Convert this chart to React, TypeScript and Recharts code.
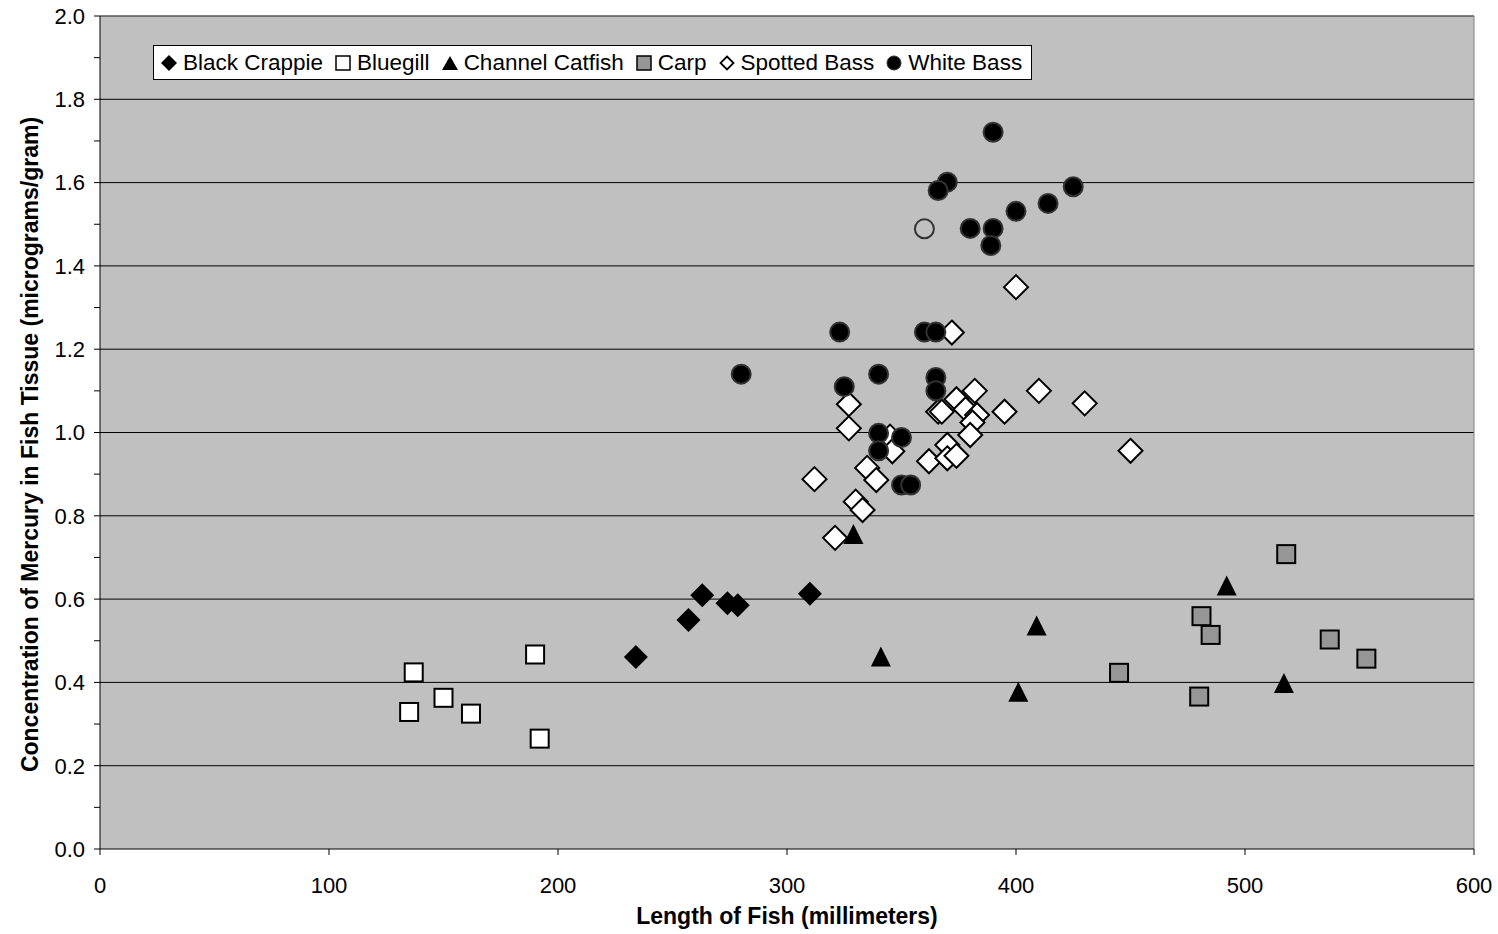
import {
  CartesianGrid,
  ReferenceLine,
  Scatter,
  ScatterChart,
  XAxis,
  YAxis,
} from "recharts";

type Pt = { x: number; y: number };

const blackCrappie: Pt[] = [
  { x: 234, y: 0.461 },
  { x: 257, y: 0.55 },
  { x: 263, y: 0.609 },
  { x: 274, y: 0.59 },
  { x: 278.5, y: 0.585 },
  { x: 310, y: 0.613 },
];

const bluegill: Pt[] = [
  { x: 137, y: 0.424 },
  { x: 135, y: 0.329 },
  { x: 150, y: 0.363 },
  { x: 162, y: 0.325 },
  { x: 190, y: 0.467 },
  { x: 192, y: 0.265 },
];

const channelCatfish: Pt[] = [
  { x: 329, y: 0.754 },
  { x: 341, y: 0.46 },
  { x: 409, y: 0.534 },
  { x: 401, y: 0.375 },
  { x: 492, y: 0.63 },
  { x: 517, y: 0.396 },
];

const carp: Pt[] = [
  { x: 518, y: 0.708 },
  { x: 481, y: 0.559 },
  { x: 485, y: 0.514 },
  { x: 445, y: 0.423 },
  { x: 480, y: 0.366 },
  { x: 537, y: 0.503 },
  { x: 553, y: 0.457 },
];

const spottedBass: Pt[] = [
  { x: 372, y: 1.24 },
  { x: 327, y: 1.068 },
  { x: 327, y: 1.01 },
  { x: 312, y: 0.888 },
  { x: 321, y: 0.747 },
  { x: 335, y: 0.915 },
  { x: 339, y: 0.886 },
  { x: 330, y: 0.834 },
  { x: 333, y: 0.814 },
  { x: 345, y: 0.99 },
  { x: 346, y: 0.955 },
  { x: 362, y: 0.931 },
  { x: 370, y: 0.97 },
  { x: 370, y: 0.938 },
  { x: 374, y: 0.944 },
  { x: 366, y: 1.05 },
  { x: 367.6, y: 1.05 },
  { x: 374, y: 1.08 },
  { x: 382, y: 1.1 },
  { x: 378, y: 1.056 },
  { x: 383, y: 1.042 },
  { x: 381, y: 1.024 },
  { x: 380, y: 0.994 },
  { x: 395, y: 1.05 },
  { x: 410, y: 1.1 },
  { x: 430, y: 1.07 },
  { x: 450, y: 0.956 },
  { x: 400, y: 1.349 },
];

const whiteBass: Pt[] = [
  { x: 390, y: 1.721 },
  { x: 370, y: 1.601 },
  { x: 366, y: 1.581 },
  { x: 380, y: 1.49 },
  { x: 390, y: 1.49 },
  { x: 389, y: 1.449 },
  { x: 400, y: 1.531 },
  { x: 414, y: 1.55 },
  { x: 425, y: 1.59 },
  { x: 323, y: 1.241 },
  { x: 360, y: 1.241 },
  { x: 365, y: 1.241 },
  { x: 280, y: 1.14 },
  { x: 340, y: 1.14 },
  { x: 365, y: 1.132 },
  { x: 365, y: 1.1 },
  { x: 325, y: 1.11 },
  { x: 340, y: 0.998 },
  { x: 340, y: 0.956 },
  { x: 350, y: 0.988 },
  { x: 350, y: 0.874 },
  { x: 354, y: 0.874 },
];

// one white bass point drawn hollow in the original
const whiteBassHollow: Pt[] = [{ x: 360, y: 1.489 }];

const xTicks = [0, 100, 200, 300, 400, 500, 600];
const yTicks = [
  0, 0.1, 0.2, 0.3, 0.4, 0.5, 0.6, 0.7, 0.8, 0.9, 1.0, 1.1, 1.2, 1.3, 1.4, 1.5,
  1.6, 1.7, 1.8, 1.9, 2.0,
];
const yGrid = [0.2, 0.4, 0.6, 0.8, 1.0, 1.2, 1.4, 1.6, 1.8, 2.0];

const FONT = "'Liberation Sans', Arial, sans-serif";
const Y_TITLE = "Concentration of Mercury in Fish Tissue (micrograms/gram)";

type ShapeProps = { cx?: number; cy?: number };

const Diamond = ({ cx = 0, cy = 0, fill }: ShapeProps & { fill: string }) => (
  <polygon
    points={`${cx},${cy - 12} ${cx + 12},${cy} ${cx},${cy + 12} ${cx - 12},${cy}`}
    fill={fill}
    stroke="#000"
    strokeWidth={fill === "#000" ? 0 : 2}
  />
);

const Square = ({ cx = 0, cy = 0, fill }: ShapeProps & { fill: string }) => (
  <rect
    x={cx - 9}
    y={cy - 9}
    width={18}
    height={18}
    fill={fill}
    stroke="#000"
    strokeWidth={2}
  />
);

const Triangle = ({ cx = 0, cy = 0 }: ShapeProps) => (
  <polygon
    points={`${cx},${cy - 11} ${cx + 10},${cy + 9} ${cx - 10},${cy + 9}`}
    fill="#000"
  />
);

const Dot = ({ cx = 0, cy = 0, fill }: ShapeProps & { fill: string }) => (
  <circle cx={cx} cy={cy} r={9.5} fill={fill} stroke="#333" strokeWidth={2} />
);

// y title sits a little below the plot's middle in the original
function YTitle(props: any) {
  const vb = props.viewBox || { x: 0, y: 16, width: 100, height: 833 };
  const x = vb.x + 30;
  const y = vb.y + vb.height / 2 + 12;
  return (
    <text
      x={x}
      y={y}
      transform={`rotate(-90, ${x}, ${y})`}
      textAnchor="middle"
      dominantBaseline="central"
      fill="#000"
      fontSize={23}
      fontWeight="bold"
      fontFamily={FONT}
    >
      {Y_TITLE}
    </text>
  );
}

function LegendBox() {
  const item = (icon: React.ReactNode, label: string, last = false) => (
    <span
      style={{
        display: "inline-flex",
        alignItems: "center",
        marginRight: last ? 0 : 12,
      }}
    >
      <svg width={16} height={16} style={{ marginRight: 6 }}>
        {icon}
      </svg>
      {label}
    </span>
  );
  return (
    <div
      style={{
        position: "absolute",
        left: 153,
        top: 45,
        height: 33,
        boxSizing: "content-box",
        background: "#fff",
        border: "1px solid #000",
        fontFamily: FONT,
        fontSize: 22.5,
        color: "#000",
        padding: "0 9px 0 7px",
        whiteSpace: "nowrap",
        display: "flex",
        alignItems: "center",
      }}
    >
      {item(<polygon points="8,0 16,8 8,16 0,8" fill="#000" />, "Black Crappie")}
      {item(<rect x={1} y={1} width={14} height={14} fill="#fff" stroke="#000" strokeWidth={1.5} />, "Bluegill")}
      {item(<polygon points="8,1 16,15 0,15" fill="#000" />, "Channel Catfish")}
      {item(<rect x={1} y={1} width={14} height={14} fill="#969696" stroke="#000" strokeWidth={1.5} />, "Carp")}
      {item(<polygon points="8,1.5 14.5,8 8,14.5 1.5,8" fill="#fff" stroke="#000" strokeWidth={1.8} />, "Spotted Bass")}
      {item(<circle cx={8} cy={8} r={7} fill="#000" stroke="#333" strokeWidth={1} />, "White Bass", true)}
    </div>
  );
}

export default function App() {
  return (
    <div
      style={{
        position: "absolute",
        left: 0,
        top: 0,
        width: 1498,
        height: 934,
        background: "#fff",
      }}
    >
      <ScatterChart
        width={1498}
        height={934}
        margin={{ top: 16, right: 24, bottom: 0, left: 0 }}
      >
        <CartesianGrid
          horizontal
          vertical={false}
          horizontalValues={yGrid}
          stroke="#000"
          strokeOpacity={1}
          fill="#c0c0c0"
          fillOpacity={1}
        />
        <XAxis
          type="number"
          dataKey="x"
          domain={[0, 600]}
          ticks={xTicks}
          interval={0}
          height={85}
          stroke="#000"
          tickSize={6}
          tickMargin={22}
          tick={{ fill: "#000", fontSize: 22, fontFamily: FONT }}
          label={{
            value: "Length of Fish (millimeters)",
            position: "center",
            dy: 24,
            style: { fill: "#000", fontSize: 23, fontWeight: "bold", fontFamily: FONT },
          }}
        />
        <YAxis
          type="number"
          dataKey="y"
          domain={[0, 2]}
          ticks={yTicks}
          interval={0}
          width={100}
          stroke="#000"
          tickSize={6}
          tickMargin={9}
          tickFormatter={(v: number) =>
            Math.round(v * 10) % 2 === 0 ? v.toFixed(1) : ""
          }
          tick={{ fill: "#000", fontSize: 22, fontFamily: FONT }}
          label={{ content: (p: any) => <YTitle {...p} /> }}
        />
        <ReferenceLine x={600} stroke="#808080" />
        <ReferenceLine y={2} stroke="#808080" />
        <Scatter
          name="Black Crappie"
          data={blackCrappie}
          isAnimationActive={false}
          shape={(p: ShapeProps) => <Diamond {...p} fill="#000" />}
        />
        <Scatter
          name="Bluegill"
          data={bluegill}
          isAnimationActive={false}
          shape={(p: ShapeProps) => <Square {...p} fill="#fff" />}
        />
        <Scatter
          name="Channel Catfish"
          data={channelCatfish}
          isAnimationActive={false}
          shape={(p: ShapeProps) => <Triangle {...p} />}
        />
        <Scatter
          name="Carp"
          data={carp}
          isAnimationActive={false}
          shape={(p: ShapeProps) => <Square {...p} fill="#969696" />}
        />
        <Scatter
          name="Spotted Bass"
          data={spottedBass}
          isAnimationActive={false}
          shape={(p: ShapeProps) => <Diamond {...p} fill="#fff" />}
        />
        <Scatter
          name="White Bass"
          data={whiteBass}
          isAnimationActive={false}
          shape={(p: ShapeProps) => <Dot {...p} fill="#000" />}
        />
        <Scatter
          name="White Bass (hollow)"
          data={whiteBassHollow}
          legendType="none"
          isAnimationActive={false}
          shape={(p: ShapeProps) => <Dot {...p} fill="none" />}
        />
      </ScatterChart>
      <LegendBox />
    </div>
  );
}
